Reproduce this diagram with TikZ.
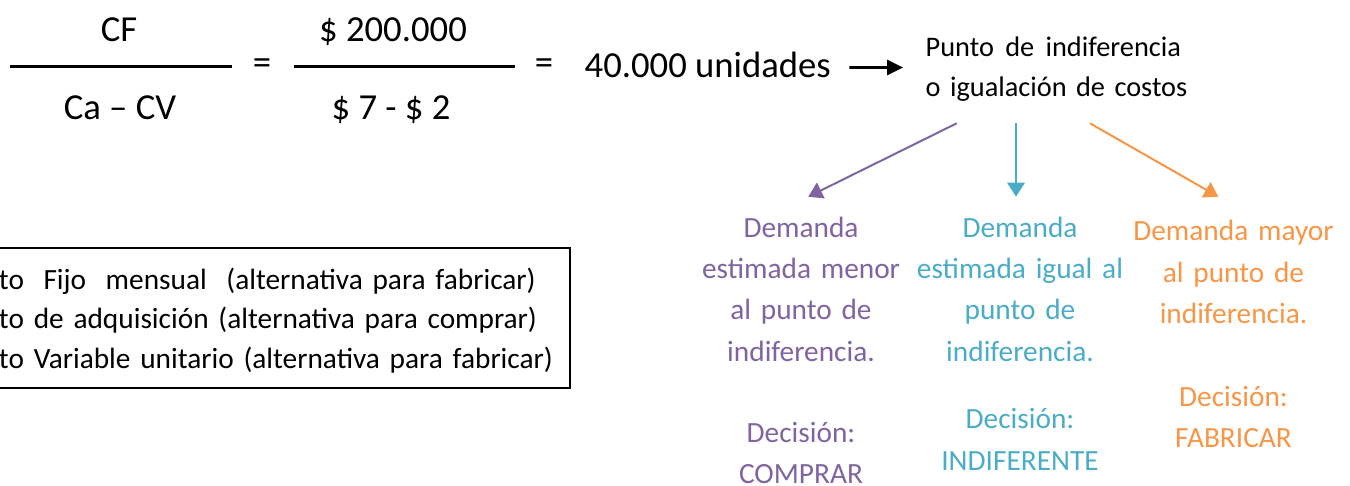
\documentclass[tikz,border=0pt]{standalone}
\usepackage{fontspec}
\setmainfont{Carlito}
\usetikzlibrary{arrows.meta,calc}

\definecolor{morado}{HTML}{8064A2}
\definecolor{celeste}{HTML}{4BACC6}
\definecolor{naranja}{HTML}{F79646}

\begin{document}
\begin{tikzpicture}[x=0.3pt,y=-0.3pt,
	grande/.style={inner sep=0pt,font=\fontsize{11}{13}\selectfont},
	chico/.style={inner sep=0pt,font=\fontsize{8.8}{12.4}\selectfont},
	rama/.style={line width=0.6pt,-{Triangle[length=4.2pt,width=5.2pt]}},
	columna/.style={chico,anchor=base,text width=75pt,align=center}]

\useasboundingbox (0,0) rectangle (1350,485);

% formula
\node [grande,anchor=base] (cf)     at (119,41)    {CF};
\node [grande,anchor=base] (cacv)   at (120,119)   {Ca – CV};
\node [grande]             (igual1) at (262,66.5)  {=};
\node [grande,anchor=base] (monto)  at (393,41)    {\$ 200.000};
\node [grande,anchor=base] (resta)  at (391,119)   {\$ 7 - \$ 2};
\node [grande]             (igual2) at (544,66.5)  {=};
\node [grande,anchor=base west] (unidades) at (584,77.7) {40.000 unidades};

\draw [line width=0.8pt] (9.6,66.7) -- (232,66.7);
\draw [line width=0.8pt] (294,66.7) -- (515,66.7);

\node [chico,anchor=base west,text width=90pt,align=left,
	font=\fontsize{8.5}{12}\selectfont] (punto) at (925,56.7)
	{Punto\hspace{3.4pt}de\hspace{3.4pt}indiferencia\\o igualación de costos};

\draw [line width=0.8pt,-{Triangle[length=4.8pt,width=4.5pt]}]
	($(unidades.base east)+(18,-10.2)$) -- ($(punto.base west)+(-22,10.8)$);

%%%%%%%%%%%%%%%%%%%%%%%%%%%%%%%%%%%%%%%%%%%%%%%%%%%%%%%%%%%%%%%%

\node [columna,morado] (menor) at (801,237.3)
	{Demanda\\estimada menor\\al punto de\\indiferencia.\\[12pt]Decisión:\\COMPRAR};
\node [columna,celeste] (igual) at (1020,237.3)
	{Demanda\\estimada igual al\\punto de\\indiferencia.\\[7.9pt]Decisión:\\INDIFERENTE};
\node [columna,naranja] (mayor) at (1233.5,240.7)
	{Demanda mayor\\al punto de\\indiferencia.\\[12.4pt]Decisión:\\FABRICAR};

\foreach \destino/\tono/\sx/\ex/\ey in {menor/morado/31.7/7.3/-40.6,
	igual/celeste/91/-4/-40.6, mayor/naranja/165/-15.2/-44} {
	\draw [rama,\tono] ($(punto.base west)+(\sx,66.6)$) -- ($(\destino.base)+(\ex,\ey)$);
}

%%%%%%%%%%%%%%%%%%%%%%%%%%%%%%%%%%%%%%%%%%%%%%%%%%%%%%%%%%%%%%%%

\node [draw,line width=0.6pt,anchor=base west,inner xsep=4.2pt,inner ysep=0pt,
	text width=167.2pt,align=left,text height=12.3pt,text depth=29.7pt,
	font=\fontsize{8.8}{11.85}\selectfont] (leyenda) at (-16,289.3)
	{to\ \ Fijo\ \ mensual\ \ (alternativa para fabricar)\\
	 to de adquisición (alternativa para comprar)\\
	 to Variable unitario (alternativa para fabricar)};

\end{tikzpicture}
\end{document}
